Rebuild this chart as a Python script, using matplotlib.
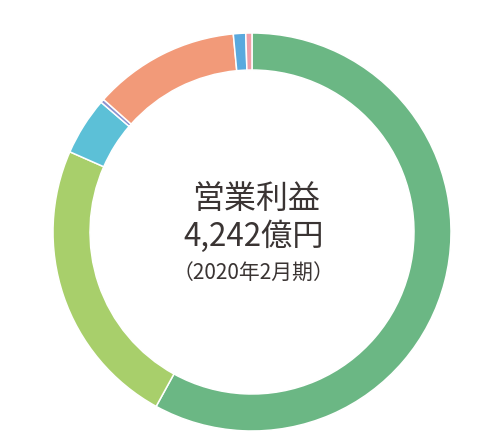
import matplotlib
matplotlib.use("Agg")
import matplotlib.pyplot as plt

plt.rcParams['font.family'] = ['Noto Sans CJK JP', 'DejaVu Sans']

# segment shares of operating profit, clockwise from top
segments = ['国内CVS', '海外CVS', 'スーパーストア', '百貨店', '金融関連', '専門店', 'その他']
shares = [58.0, 23.6, 4.7, 0.3, 11.9, 1.0, 0.5]
colors = ['#6bb784', '#a8cf6b', '#5cc0d7', '#8c93d1', '#f29a79', '#5aa9de', '#f19ea6']

title = '営業利益'
amount = '4,242億円'
period = '（2020年2月期）'

fig = plt.figure(figsize=(5.01, 4.41), dpi=100)
# pie centre at (252, 232) px from top-left, radius ~199 px
ax = fig.add_axes([53 / 501, 10 / 441, 398 / 501, 398 / 441])
ax.pie(shares, colors=colors, startangle=90, counterclock=False, radius=1.0,
       wedgeprops=dict(width=0.186, edgecolor='white', linewidth=1.1))
ax.set_xlim(-1, 1)
ax.set_ylim(-1, 1)
ax.set_aspect('equal')
ax.axis('off')

txt = '#3a3433'
fig.text(256 / 501, 1 - 199 / 441, title, ha='center', va='center', fontsize=23, color=txt)
fig.text(254 / 501, 1 - 237 / 441, amount, ha='center', va='center', fontsize=22.5, color=txt)
fig.text(253 / 501, 1 - 274 / 441, period, ha='center', va='center', fontsize=15, color=txt)

fig.savefig('out.png', dpi=100)
